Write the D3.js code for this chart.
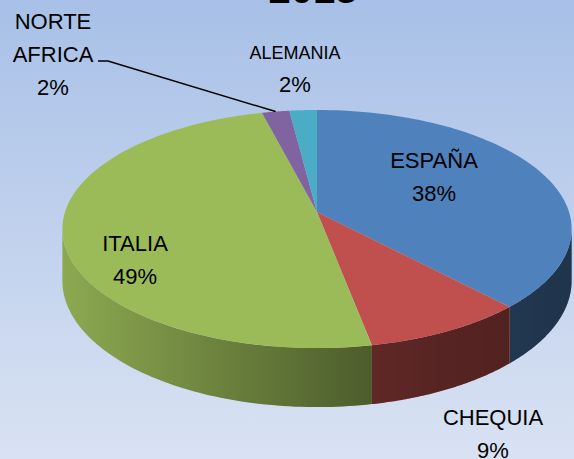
<!DOCTYPE html>
<html>
<head>
<meta charset="utf-8">
<script src="https://cdn.jsdelivr.net/npm/d3@7/dist/d3.min.js"></script>
<style>
  body { margin: 0; }
  svg { display: block; }
  text { font-family: 'Liberation Sans', Arial, sans-serif; fill: #000; }
</style>
</head>
<body>
<div id="chart"></div>
<script>
// Data
const title = '2013';
const countries = ['ESPAÑA', 'CHEQUIA', 'ITALIA', 'NORTE AFRICA', 'ALEMANIA'];
const shares = [38, 9, 49, 2, 2];
const colors = ['#4f81bd', '#c0504d', '#9bbb59', '#8064a2', '#4bacc6'];

const width = 574;
const height = 459;

// Pie geometry (fake perspective, far side smaller)
const cx = 317, cy = 212;
const R = 252;      // horizontal radius
const A = 116.6;    // vertical radius before perspective
const k = 0.143;    // perspective strength
const depth = 50.6; // thickness of the pie

// label layout (pixel anchors, first line baseline)
const labelLayout = {
    'ESPAÑA':       { x: 434, y: 168, size: 22, nameSize: 22 },
    'CHEQUIA':      { x: 493, y: 425, size: 22, nameSize: 22 },
    'ITALIA':       { x: 135, y: 251, size: 22, nameSize: 22 },
    'NORTE AFRICA': { x: 53,  y: 29,  size: 22, nameSize: 22 },
    'ALEMANIA':     { x: 295, y: 59,  size: 22, nameSize: 18 }
};

function topPt(t, r = 1) {
    const c = Math.cos(t), s = Math.sin(t);
    const w = 1 + k * r * c;
    return [cx + R * r * s / w, cy - A * r * c / w];
}
function bottomPt(t) {
    const c = Math.cos(t), s = Math.sin(t);
    const w = 1 + k * c;
    return [cx + R * s / w, cy + (depth - A * c) / w];
}
function sample(a0, a1, n = 80) {
    return d3.range(n + 1).map(i => a0 + (a1 - a0) * i / n);
}

const svg = d3.select('#chart')
    .append('svg')
    .attr('width', width)
    .attr('height', height);

const defs = svg.append('defs');

const bg = defs.append('linearGradient')
    .attr('id', 'bg')
    .attr('x1', 0).attr('y1', 0).attr('x2', 0).attr('y2', 1);
bg.append('stop').attr('offset', '0%').attr('stop-color', '#a8c0e7');
bg.append('stop').attr('offset', '100%').attr('stop-color', '#d9e2f3');

// shading of the side wall: lighter on the left, darker to the right
const shade = defs.append('linearGradient')
    .attr('id', 'shade')
    .attr('gradientUnits', 'userSpaceOnUse')
    .attr('x1', cx - R).attr('y1', 0).attr('x2', cx + R).attr('y2', 0);
shade.append('stop').attr('offset', '0%').attr('stop-color', '#000').attr('stop-opacity', 0.1);
shade.append('stop').attr('offset', '60%').attr('stop-color', '#000').attr('stop-opacity', 0.5);
shade.append('stop').attr('offset', '75%').attr('stop-color', '#000').attr('stop-opacity', 0.55);
shade.append('stop').attr('offset', '100%').attr('stop-color', '#000').attr('stop-opacity', 0.6);

svg.append('rect')
    .attr('width', width)
    .attr('height', height)
    .attr('fill', 'url(#bg)');

// Title (cut off at the top, as in the source)
svg.append('text')
    .attr('x', 313)
    .attr('y', 3)
    .attr('text-anchor', 'middle')
    .style('font-size', '40px')
    .style('font-weight', 'bold')
    .text(title);

const pie = d3.pie().sort(null).value(d => d.value);
const slices = pie(countries.map((c, i) => ({ name: c, value: shares[i], color: colors[i] })));

const line = d3.line();
const g = svg.append('g');

// Side walls, only the part facing the viewer
const vis0 = Math.acos(-k), vis1 = 2 * Math.PI - Math.acos(-k);
slices.forEach(s => {
    const a0 = Math.max(s.startAngle, vis0);
    const a1 = Math.min(s.endAngle, vis1);
    if (a1 <= a0) return;
    const pts = sample(a0, a1).map(t => topPt(t))
        .concat(sample(a1, a0).map(bottomPt));
    g.append('path')
        .attr('d', line(pts) + 'Z')
        .attr('fill', s.data.color);
    g.append('path')
        .attr('d', line(pts) + 'Z')
        .attr('fill', 'url(#shade)');
});

// Top faces
slices.forEach(s => {
    const pts = [[cx, cy]].concat(sample(s.startAngle, s.endAngle).map(t => topPt(t)));
    g.append('path')
        .attr('d', line(pts) + 'Z')
        .attr('fill', s.data.color);
});

// Leader line for NORTE AFRICA
const na = slices[3];
const naEnd = topPt((na.startAngle + na.endAngle) / 2);
const naLab = labelLayout['NORTE AFRICA'];
svg.append('path')
    .attr('d', line([[naLab.x + 45, naLab.y + 32], [naLab.x + 55, naLab.y + 32], naEnd]))
    .attr('fill', 'none')
    .attr('stroke', '#000')
    .attr('stroke-width', 1.5);

// Labels
slices.forEach(s => {
    const L = labelLayout[s.data.name];
    const t = svg.append('text')
        .attr('text-anchor', 'middle');
    const words = s.data.name === 'NORTE AFRICA' ? ['NORTE', 'AFRICA'] : [s.data.name];
    words.forEach((w, i) => {
        t.append('tspan')
            .attr('x', L.x)
            .attr('y', L.y + i * 33)
            .style('font-size', L.nameSize + 'px')
            .text(w);
    });
    t.append('tspan')
        .attr('x', L.x)
        .attr('y', L.y + words.length * 33)
        .style('font-size', L.size + 'px')
        .text(d3.format('.0f')(s.data.value) + '%');
});
</script>
</body>
</html>
